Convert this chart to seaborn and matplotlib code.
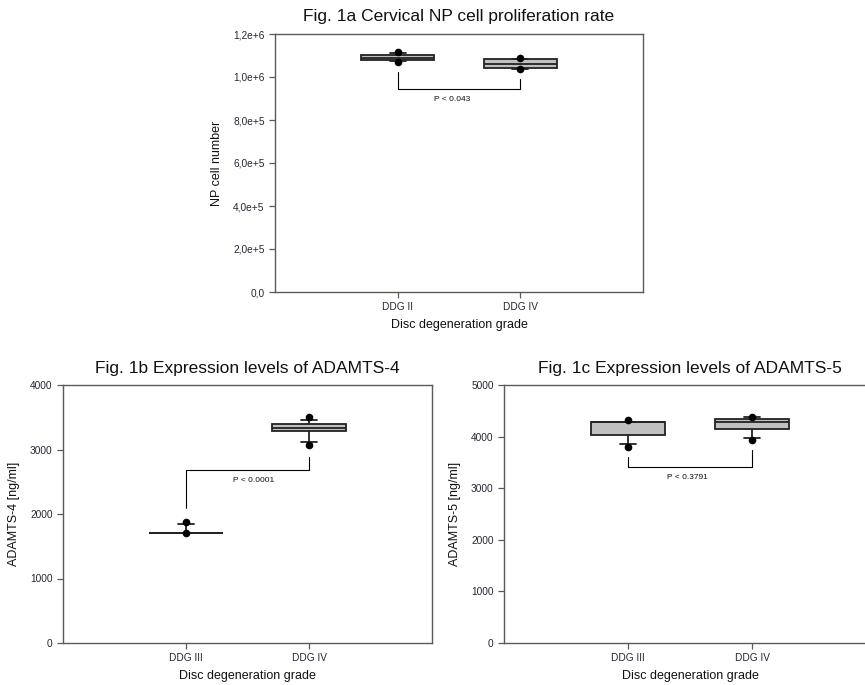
import numpy as np
import pandas as pd
import matplotlib
matplotlib.use("Agg")
import matplotlib.pyplot as plt
import seaborn as sns
from matplotlib.ticker import FuncFormatter, MultipleLocator

# ---------------- data ----------------
cats_a = ["DDG II", "DDG IV"]
a_whislo = [1.074e6, 1.039e6]
a_q1 = [1.078e6, 1.041e6]
a_med = [1.088e6, 1.061e6]
a_q3 = [1.101e6, 1.082e6]
a_whishi = [1.112e6, 1.085e6]
a_out_lo = [1.071e6, 1.037e6]
a_out_hi = [1.116e6, 1.087e6]

cats_b = ["DDG III", "DDG IV"]
b_whislo = [1698, 3120]
b_q1 = [1698, 3291]
b_med = [1705, 3328]
b_q3 = [1712, 3395]
b_whishi = [1849, 3457]
b_out_lo = [1700, 3069]
b_out_hi = [1875, 3498]

cats_c = ["DDG III", "DDG IV"]
c_whislo = [3851, 3967]
c_q1 = [4025, 4141]
c_med = [4285, 4289]
c_q3 = [4289, 4341]
c_whishi = [4289, 4386]
c_out_lo = [3805, 3934]
c_out_hi = [4322, 4386]

# bracket: left start, right start, bar level, label
brk_a = [1.0247e6, 0.989e6, 0.943e6, "P < 0.043"]
brk_b = [2093, 2888, 2681, "P < 0.0001"]
brk_c = [3611, 3740, 3405, "P < 0.3791"]

titles = ["Fig. 1a Cervical NP cell proliferation rate",
          "Fig. 1b Expression levels of ADAMTS-4",
          "Fig. 1c Expression levels of ADAMTS-5"]
ylabels = ["NP cell number", "ADAMTS-4 [ng/ml]", "ADAMTS-5 [ng/ml]"]
xlabel = "Disc degeneration grade"

# ---------------- style ----------------
sns.set_style("ticks")
plt.rcParams["font.family"] = ["Liberation Sans", "DejaVu Sans"]
TICKC = "#262636"
SPINEC = "#5a5a5a"

fig = plt.figure(figsize=(8.65, 6.85), dpi=100)
W, H = 865.0, 685.0


def add_ax(l, t, r, b):
    return fig.add_axes([l / W, 1 - b / H, (r - l) / W, (b - t) / H])


ax_a = add_ax(275, 34, 643, 292)
ax_b = add_ax(63, 385, 432, 643)
ax_c = add_ax(504, 385, 876, 643)


def sci_comma(v, pos):
    if v == 0:
        return "0,0"
    s = f"{v:.1e}"
    m, e = s.split("e")
    return f"{m.replace('.', ',')}e{int(e):+d}"


def panel(ax, cats, lo, q1, med, q3, hi, out_lo, out_hi, brk, text_x,
          ylim, ystep, title, ylabel, fmt=None):
    rows = []
    for i, c in enumerate(cats):
        for v in (lo[i], q1[i], med[i], q3[i], hi[i]):
            rows.append({"grade": c, "value": v})
    df = pd.DataFrame(rows)
    sns.boxplot(data=df, x="grade", y="value", order=cats, whis=(0, 100),
                width=0.6, color="#c0c0c0", linecolor="#222222",
                linewidth=1.3, showfliers=False, ax=ax, capwidths=0.13)
    dots = pd.DataFrame({"grade": list(cats) + list(cats),
                         "value": list(out_lo) + list(out_hi)})
    sns.stripplot(data=dots, x="grade", y="value", order=cats, jitter=False,
                  color="black", size=5.5, ax=ax, zorder=5)
    # bracket
    l0, r0, bar, lab = brk
    ax.plot([0, 0, 1, 1], [l0, bar, bar, r0], color="black", lw=0.8,
            zorder=4)
    ax.text(text_x, bar - (ylim[1] - ylim[0]) * 0.027, lab, ha="center",
            va="top", fontsize=6, color="#111111")
    ax.set_xlim(-1, 2)
    ax.set_ylim(*ylim)
    ax.yaxis.set_major_locator(MultipleLocator(ystep))
    if fmt is not None:
        ax.yaxis.set_major_formatter(FuncFormatter(fmt))
    ax.set_title(title, fontsize=12.5, pad=9, color="#111111")
    ax.set_ylabel(ylabel, fontsize=9, labelpad=7, color="#111111")
    ax.set_xlabel(xlabel, fontsize=9, labelpad=5, color="#111111")
    ax.tick_params(axis="both", labelsize=7.3, colors=SPINEC,
                   labelcolor=TICKC, length=4, width=0.9)
    ax.tick_params(axis="x", pad=3)
    for sp in ax.spines.values():
        sp.set_visible(True)
        sp.set_color(SPINEC)
        sp.set_linewidth(1.0)


panel(ax_a, cats_a, a_whislo, a_q1, a_med, a_q3, a_whishi, a_out_lo,
      a_out_hi, brk_a, 0.447, (0, 1.2e6), 2e5, titles[0], ylabels[0],
      fmt=sci_comma)
panel(ax_b, cats_b, b_whislo, b_q1, b_med, b_q3, b_whishi, b_out_lo,
      b_out_hi, brk_b, 0.549, (0, 4000), 1000, titles[1], ylabels[1])
panel(ax_c, cats_c, c_whislo, c_q1, c_med, c_q3, c_whishi, c_out_lo,
      c_out_hi, brk_c, 0.476, (0, 5000), 1000, titles[2], ylabels[2])

fig.savefig("out.png", dpi=100)
